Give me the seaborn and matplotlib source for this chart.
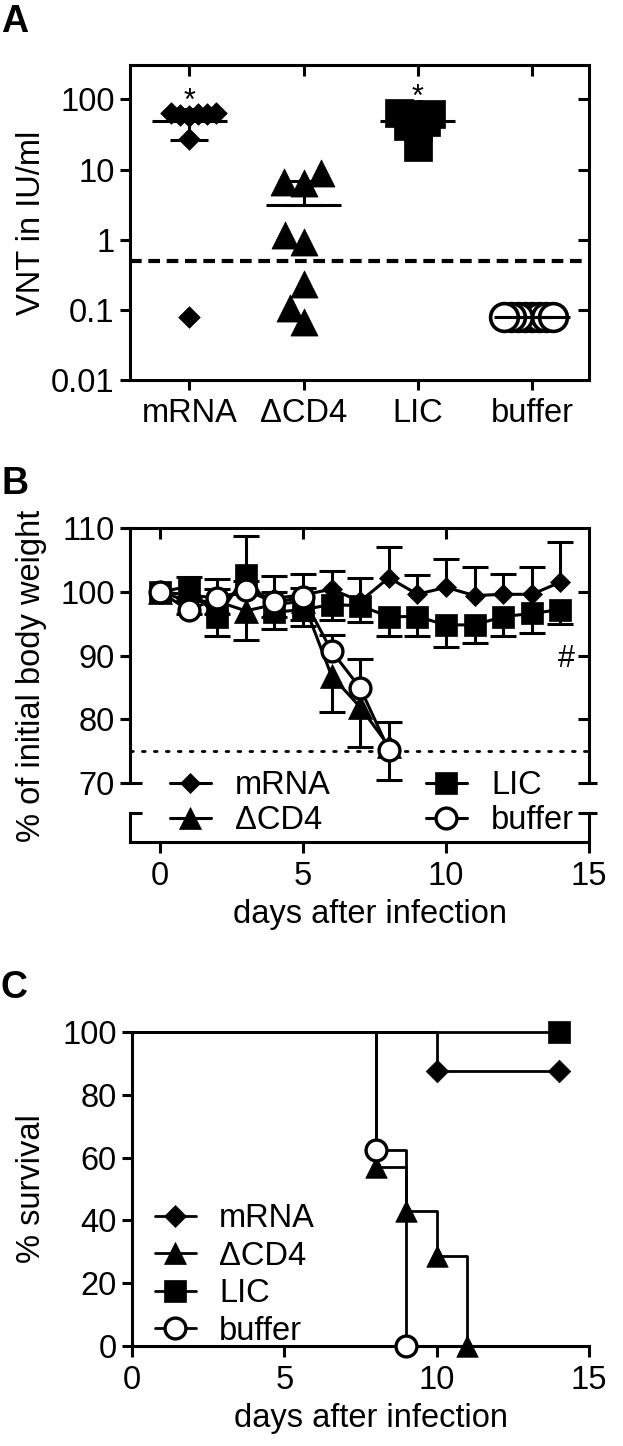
import numpy as np
import pandas as pd
import matplotlib
matplotlib.use("Agg")
import matplotlib.pyplot as plt
import seaborn as sns
from matplotlib.lines import Line2D
from matplotlib.ticker import NullLocator
from matplotlib.transforms import blended_transform_factory

# ---------------- Panel A data ----------------
groups_a = ["mRNA", "ΔCD4", "LIC", "buffer"]
vnt_mrna = [58, 60, 61, 62, 63, 64, 27, 0.08]
vnt_dcd4 = [9.0, 6.7, 6.5, 1.18, 0.93, 0.23, 0.107, 0.068]
vnt_lic = [60, 61, 62, 63, 48, 42, 41, 21]
vnt_buffer = [0.08, 0.08, 0.08, 0.08, 0.08, 0.08, 0.08, 0.08]
vnt_cutoff = 0.5
sig_groups_a = ["mRNA", "LIC"]
sig_y_a = [70, 80]
yticks_a = [0.01, 0.1, 1, 10, 100]
yticklabels_a = ["0.01", "0.1", "1", "10", "100"]

# ---------------- Panel B data ----------------
days = [0, 1, 2, 3, 4, 5, 6, 7, 8, 9, 10, 11, 12, 13, 14]
days_short = [0, 1, 2, 3, 4, 5, 6, 7, 8]
bw_mrna = [100, 99.5, 99.0, 100.0, 99.0, 99.5, 100.4, 98.5, 102.2, 99.6, 100.7, 99.4, 99.6, 99.6, 101.5]
sd_mrna = [0, 2.8, 3.0, 8.8, 3.5, 3.3, 2.8, 3.6, 4.8, 3.1, 4.5, 4.5, 3.2, 4.3, 6.3]
bw_lic = [100, 100.8, 96.0, 102.6, 96.8, 97.2, 98.0, 97.8, 96.1, 96.1, 94.8, 94.8, 96.1, 96.6, 97.2]
sd_lic = [0, 2.0, 2.9, 3.0, 2.6, 2.5, 2.5, 2.5, 3.1, 3.1, 3.5, 2.9, 3.0, 3.1, 2.2]
bw_dcd4 = [100, 98.5, 98.5, 97.0, 98.0, 98.5, 86.8, 81.9, 75.8]
sd_dcd4 = [0, 2.0, 2.0, 4.5, 2.0, 3.0, 5.7, 6.3, 5.3]
bw_buffer = [100, 97.1, 99.0, 100.2, 98.4, 99.1, 90.7, 84.9, 75.2]
sd_buffer = [0, 1.5, 1.5, 1.5, 1.5, 1.5, 2.5, 4.5, 4.3]
weight_cutoff = 75
yticks_b = [70, 80, 90, 100, 110]
xticks_b = [0, 5, 10, 15]

# ---------------- Panel C data (Kaplan-Meier steps) ----------------
km_t_mrna = [0, 10, 14]
km_s_mrna = [100, 87.5, 87.5]
km_t_dcd4 = [0, 8, 9, 10, 11]
km_s_dcd4 = [100, 57.1, 42.9, 28.6, 0]
km_t_lic = [0, 14]
km_s_lic = [100, 100]
km_t_buffer = [0, 8, 9]
km_s_buffer = [100, 62.5, 0]
yticks_c = [0, 20, 40, 60, 80, 100]
xticks_c = [0, 5, 10, 15]

# ---------------- style ----------------
sns.set_style("ticks")
FS = 23.5
LW = 2.2
plt.rcParams["font.family"] = ["Liberation Sans", "DejaVu Sans"]
plt.rcParams.update({
    "axes.linewidth": LW, "axes.edgecolor": "black", "axes.labelcolor": "black",
    "text.color": "black", "xtick.color": "black", "ytick.color": "black",
    "xtick.major.width": LW, "ytick.major.width": LW,
    "xtick.major.size": 7, "ytick.major.size": 7,
    "xtick.labelsize": FS, "ytick.labelsize": FS, "axes.labelsize": FS, "font.size": FS,
})

W, H = 623, 1446
fig = plt.figure(figsize=(W / 100, H / 100), dpi=100)
axA = fig.add_axes([130 / W, 1 - 380 / H, 459 / W, 315 / H])
axB = fig.add_axes([130 / W, 1 - 842 / H, 459 / W, 314 / H])
axC = fig.add_axes([132 / W, 1 - 1346 / H, 457 / W, 314 / H])

# ================= Panel A =================
vals_a = {"mRNA": vnt_mrna, "ΔCD4": vnt_dcd4, "LIC": vnt_lic, "buffer": vnt_buffer}
dfA = pd.DataFrame({
    "group": np.repeat(groups_a, [len(vals_a[g]) for g in groups_a]),
    "vnt": np.concatenate([vals_a[g] for g in groups_a]),
})
axA.set_yscale("log")
layout_pt = {"mRNA": 6.2, "ΔCD4": 13.7, "LIC": 6.5, "buffer": 4.8}
marker_a = {"mRNA": ("D", 11.0, "black"), "ΔCD4": ("^", 19.5, "black"),
            "LIC": ("s", 20.0, "black"), "buffer": ("o", 20.0, "white")}
coll_idx = {}
for g in groups_a:
    n0 = len(axA.collections)
    sns.swarmplot(data=dfA[dfA["group"] == g], x="group", y="vnt", order=groups_a,
                  size=layout_pt[g], color="black", ax=axA, warn_thresh=1.0)
    coll_idx[g] = list(range(n0, len(axA.collections)))
axA.set_xlim(-0.52, 3.5)
axA.set_ylim(0.01, 10 ** 2.49)
fig.canvas.draw()
offsets = {g: np.vstack([axA.collections[i].get_offsets() for i in coll_idx[g]]) for g in groups_a}
for c in list(axA.collections):
    c.remove()
for k, g in enumerate(groups_a):
    mk, ms, fc = marker_a[g]
    off = offsets[g]
    axA.scatter(off[:, 0], off[:, 1], marker=mk, s=ms ** 2, facecolor=fc,
                edgecolor="black", linewidth=2.6 if fc == "white" else 0.5, zorder=3, clip_on=False)

stats = dfA.groupby("group", sort=False)["vnt"].agg(["mean", "std"]).reindex(groups_a)
pos = np.arange(len(groups_a))
lower = np.where(stats["mean"] - stats["std"] > 0, stats["std"], 0.0)
axA.hlines(stats["mean"], pos - 0.33, pos + 0.33, color="black", lw=LW, zorder=4)
axA.errorbar(pos, stats["mean"], yerr=[lower, stats["std"]], fmt="none", ecolor="black",
             elinewidth=LW, capsize=13.7, capthick=LW, zorder=4)
axA.axhline(vnt_cutoff, color="black", lw=3, ls=(0, (2.8, 1.6)), zorder=2)
for g, yv in zip(sig_groups_a, sig_y_a):
    axA.text(groups_a.index(g), yv, "*", ha="center", va="baseline", fontsize=22)

axA.set_xticks(pos)
axA.set_xticklabels(groups_a)
axA.set_yticks(yticks_a)
axA.set_yticklabels(yticklabels_a)
axA.yaxis.set_minor_locator(NullLocator())
axA.tick_params(axis="x", length=7, pad=6)
axA.tick_params(axis="y", length=7, pad=4)
axA.set_xlabel("")
axA.set_ylabel("VNT in IU/ml")
axA.yaxis.set_label_coords(-0.181, 0.5)
for s in ("top", "right"):
    axA.spines[s].set_visible(True)
tA = axA.twiny()
tA.set_xlim(axA.get_xlim())
tA.set_xticks(pos)
tA.tick_params(axis="x", direction="in", length=8, width=LW, labeltop=False)
rA = axA.twinx()
rA.set_yscale("log")
rA.set_ylim(axA.get_ylim())
rA.set_yticks(yticks_a[1:])
rA.yaxis.set_minor_locator(NullLocator())
rA.tick_params(axis="y", direction="in", length=8, width=LW, labelright=False)
for t in (tA, rA):
    for s in t.spines.values():
        s.set_visible(False)

# ================= Panel B =================
ymin_b, ymax_b = 60.75, 110
seg_top = 65.3
series_b = [
    ("mRNA", days, bw_mrna, sd_mrna, "up", "D", 10.0, "black", 3),
    ("LIC", days, bw_lic, sd_lic, "down", "s", 16.0, "black", 4),
    ("ΔCD4", days_short, bw_dcd4, sd_dcd4, "down", "^", 17.0, "black", 5),
    ("buffer", days_short, bw_buffer, sd_buffer, "up", "o", 15.0, "white", 6),
]
for name, dx, m, s, direc, mk, ms, fc, z in series_b:
    m = np.asarray(m, float)
    s = np.asarray(s, float)
    sns.lineplot(x=dx, y=m, ax=axB, color="black", lw=LW, marker=mk, markersize=ms,
                 markerfacecolor=fc, markeredgecolor="black",
                 markeredgewidth=2.4 if fc == "white" else 0.5,
                 errorbar=None, legend=False, zorder=z, clip_on=False)
    up = s if direc == "up" else np.zeros_like(s)
    lo = s if direc == "down" else np.zeros_like(s)
    axB.errorbar(dx, m, yerr=[lo, up], fmt="none", ecolor="black", elinewidth=LW,
                 capsize=0, zorder=z - 0.5)
    ends = m + up - lo
    keep = s > 0
    axB.scatter(np.asarray(dx)[keep], ends[keep], marker="_", s=19 ** 2, color="black",
                linewidth=LW, zorder=z - 0.5)
axB.axhline(weight_cutoff, color="black", lw=2.0, ls=(0, (1, 3.3)), dash_capstyle="round", zorder=2)
axB.text(14.2, 89.5, "#", ha="center", va="center", fontsize=22)

axB.set_xlim(-1.05, 15)
axB.set_ylim(ymin_b, ymax_b)
axB.set_xticks(xticks_b)
axB.set_yticks(yticks_b)
axB.spines["left"].set_bounds(70, 110)
axB.spines["right"].set_visible(False)
axB.tick_params(axis="x", length=8, pad=6)
axB.tick_params(axis="y", length=7, pad=4)
axB.set_xlabel("days after infection")
axB.set_ylabel("% of initial body weight")
axB.yaxis.set_label_coords(-0.181, 0.53)
axB.xaxis.set_label_coords(0.523, -0.18)

trB = blended_transform_factory(axB.transAxes, axB.transData)
for xa in (0.0, 1.0):
    axB.plot([xa, xa], [ymin_b, seg_top], transform=trB, color="black", lw=LW,
             clip_on=False, solid_capstyle="projecting")
for yv in (70, seg_top):
    axB.plot([0.0, 0.026], [yv, yv], transform=trB, color="black", lw=LW, clip_on=False,
             solid_capstyle="butt")
    axB.plot([0.976, 1.018], [yv, yv], transform=trB, color="black", lw=LW, clip_on=False,
             solid_capstyle="butt")

tB = axB.twiny()
tB.set_xlim(axB.get_xlim())
tB.set_xticks(xticks_b[:-1])
tB.tick_params(axis="x", direction="in", length=8, width=LW, labeltop=False)
rB = axB.twinx()
rB.set_ylim(axB.get_ylim())
rB.set_yticks(yticks_b[1:-1])
rB.tick_params(axis="y", direction="in", length=8, width=LW, labelright=False)
for t in (tB, rB):
    for s in t.spines.values():
        s.set_visible(False)
rB.spines["right"].set_visible(True)
rB.spines["right"].set_bounds(70, 110)

legend_items = [("mRNA", "D", 10.0, "black"), ("ΔCD4", "^", 16.0, "black"),
                ("LIC", "s", 16.0, "black"), ("buffer", "o", 15.0, "white")]
handles_b = [Line2D([], [], color="black", lw=LW, marker=mk, markersize=ms, markerfacecolor=fc,
                    markeredgecolor="black", markeredgewidth=2.4 if fc == "white" else 0.5)
             for _, mk, ms, fc in legend_items]
axB.legend(handles_b, [n for n, *_ in legend_items], ncol=2, loc="upper left",
           bbox_to_anchor=(0.087, 0.228), frameon=False, handlelength=1.25, handletextpad=0.75,
           columnspacing=2.9, labelspacing=0.12, borderpad=0, borderaxespad=0, fontsize=FS)

# ================= Panel C =================
series_c = [
    ("mRNA", km_t_mrna, km_s_mrna, "D", 11.5, "black"),
    ("ΔCD4", km_t_dcd4, km_s_dcd4, "^", 15.5, "black"),
    ("LIC", km_t_lic, km_s_lic, "s", 16.0, "black"),
    ("buffer", km_t_buffer, km_s_buffer, "o", 15.0, "white"),
]
for z, (name, t, sv, mk, ms, fc) in enumerate(series_c):
    sns.lineplot(x=t, y=sv, ax=axC, color="black", lw=2.0, drawstyle="steps-post",
                 errorbar=None, legend=False, zorder=3, clip_on=False)
for z, (name, t, sv, mk, ms, fc) in enumerate(series_c):
    sns.scatterplot(x=t[1:], y=sv[1:], ax=axC, marker=mk, s=ms ** 2, color=fc,
                    edgecolor="black", linewidth=2.4 if fc == "white" else 0.5,
                    legend=False, zorder=5 + z, clip_on=False)
axC.set_xlim(0, 15)
axC.set_ylim(0, 100)
axC.set_xticks(xticks_c)
axC.set_yticks(yticks_c)
sns.despine(ax=axC)
axC.tick_params(axis="x", length=8, pad=6)
axC.tick_params(axis="y", length=7, pad=4)
axC.set_xlabel("days after infection")
axC.set_ylabel("% survival")
axC.yaxis.set_label_coords(-0.186, 0.5)
axC.xaxis.set_label_coords(0.523, -0.18)
handles_c = [Line2D([], [], color="black", lw=2.0, marker=mk, markersize=ms, markerfacecolor=fc,
                    markeredgecolor="black", markeredgewidth=2.4 if fc == "white" else 0.5)
             for _, _, _, mk, ms, fc in series_c]
axC.legend(handles_c, [s[0] for s in series_c], loc="upper left", bbox_to_anchor=(0.05, 0.455),
           frameon=False, handlelength=1.25, handletextpad=0.72, labelspacing=0.2,
           borderpad=0, borderaxespad=0, fontsize=FS)

# ---------------- panel letters ----------------
for letter, ybase in (("A", 32), ("B", 494), ("C", 998)):
    fig.text(1 / W, 1 - ybase / H, letter, fontsize=27, fontweight="bold", ha="left", va="baseline")

fig.savefig("out.png", dpi=100)
